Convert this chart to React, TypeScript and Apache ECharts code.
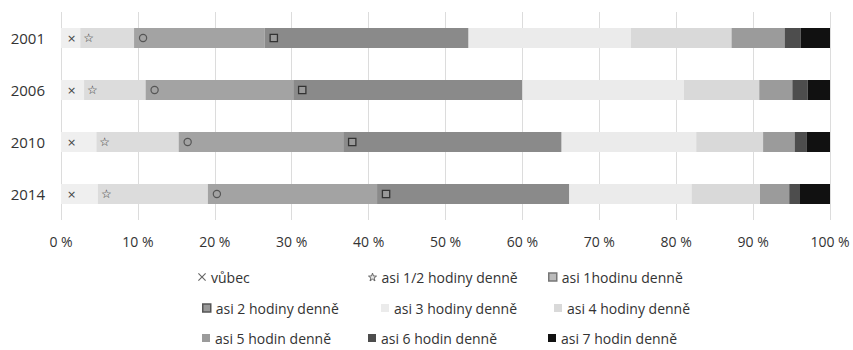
import React, { useEffect, useRef } from "react";
import * as echarts from "echarts";

// Survey years (rows, top to bottom)
const years = ["2001", "2006", "2010", "2014"];

// Share of respondents (%) per answer, one value per year
const vubec = [2.5, 3.0, 4.6, 4.8];
const pulHodiny = [7.0, 8.0, 10.7, 14.3];
const jednaHodina = [17.0, 19.2, 21.4, 22.0];
const dveHodiny = [26.5, 29.8, 28.4, 25.0];
const triHodiny = [21.1, 21.0, 17.5, 15.9];
const ctyriHodiny = [13.1, 9.8, 8.7, 8.9];
const petHodin = [6.9, 4.3, 4.1, 3.8];
const sestHodin = [2.1, 2.0, 1.6, 1.4];
const sedmHodin = [3.8, 2.9, 3.0, 3.9];

const seriesNames = [
  "vůbec",
  "asi 1/2 hodiny denně",
  "asi 1hodinu denně",
  "asi 2 hodiny denně",
  "asi 3 hodiny denně",
  "asi 4 hodiny denně",
  "asi 5 hodin denně",
  "asi 6 hodin denně",
  "asi 7 hodin denně",
];
const seriesData = [
  vubec,
  pulHodiny,
  jednaHodina,
  dveHodiny,
  triHodiny,
  ctyriHodiny,
  petHodin,
  sestHodin,
  sedmHodin,
];

const xTicks = [0, 10, 20, 30, 40, 50, 60, 70, 80, 90, 100];

const colors = [
  "#efefef",
  "#dcdcdc",
  "#a3a3a3",
  "#8a8a8a",
  "#ebebeb",
  "#d9d9d9",
  "#9b9b9b",
  "#4d4d4d",
  "#111111",
];

const FONT = "Open Sans";
const TEXT = "#333333";

// Small pattern marks drawn at the left end of the first four segments
const markLabels: any[] = [
  {
    show: true,
    position: "insideLeft",
    distance: 6,
    formatter: "×",
    color: "#444",
    fontSize: 11,
    fontFamily: "DejaVu Sans",
  },
  {
    show: true,
    position: "insideLeft",
    distance: 3,
    formatter: "☆",
    color: "#333",
    fontSize: 12,
    fontFamily: "DejaVu Sans",
  },
  {
    show: true,
    position: "insideLeft",
    distance: 6,
    formatter: "{c|}",
    rich: {
      c: {
        width: 6,
        height: 6,
        borderRadius: 3,
        borderColor: "#555",
        borderWidth: 1.2,
        backgroundColor: "#a3a3a3",
      },
    },
  },
  {
    show: true,
    position: "insideLeft",
    distance: 6,
    formatter: "{s|}",
    rich: {
      s: {
        width: 6,
        height: 6,
        borderColor: "#333",
        borderWidth: 1.3,
        backgroundColor: "#999",
      },
    },
  },
];

// Legend icons
const legendIcons: any[] = [
  "path://M0,1L1,0L5,4L9,0L10,1L6,5L10,9L9,10L5,6L1,10L0,9L4,5Z",
  "path://M5,0L6.2,3.6L10,3.8L7,6.1L8.1,9.8L5,7.6L1.9,9.8L3,6.1L0,3.8L3.8,3.6Z",
  "rect",
  "rect",
  "rect",
  "rect",
  "rect",
  "rect",
  "rect",
];
const legendStyles: any[] = [
  { color: "#666" },
  { color: "#e6e6e6", borderColor: "#666", borderWidth: 1 },
  { color: "#bbbbbb", borderColor: "#777", borderWidth: 1.5 },
  { color: "#999", borderColor: "#555", borderWidth: 1.5 },
  { color: colors[4] },
  { color: colors[5] },
  { color: colors[6] },
  { color: colors[7] },
  { color: colors[8] },
];
// Legend grid: three columns, three rows
const legendLeft = [198, 368, 548, 202, 381, 554, 202, 368, 548];
const legendTop = [270, 270, 270, 301, 301, 301, 331, 331, 331];

export default function App() {
  const ref = useRef<HTMLDivElement>(null);

  useEffect(() => {
    if (!ref.current) return;
    const chart = echarts.init(ref.current, null, { renderer: "svg" });

    const series = seriesNames.map((name, i) => ({
      name,
      type: "bar",
      stack: "total",
      barWidth: 20,
      data: seriesData[i],
      itemStyle: { color: colors[i] },
      label: i < 4 ? markLabels[i] : { show: false },
      emphasis: { disabled: true },
    }));

    const legends = seriesNames.map((name, i) => ({
      show: true,
      left: legendLeft[i],
      top: legendTop[i],
      orient: "horizontal",
      itemWidth: 8,
      itemHeight: 8,
      padding: 0,
      selectedMode: false,
      textStyle: {
        fontFamily: FONT,
        fontSize: 14,
        lineHeight: 14,
        color: TEXT,
      },
      data: [
        {
          name,
          icon: legendIcons[i],
          itemStyle: legendStyles[i],
        },
      ],
    }));

    chart.setOption({
      animation: false,
      textStyle: { fontFamily: FONT },
      grid: { left: 61, right: 23, top: 12, bottom: 130, containLabel: false },
      xAxis: {
        type: "value",
        min: xTicks[0],
        max: xTicks[xTicks.length - 1],
        interval: 10,
        axisLine: { show: false },
        axisTick: { show: false },
        splitLine: { lineStyle: { color: "#dcdcdc", width: 1 } },
        axisLabel: {
          formatter: "{value} %",
          fontFamily: FONT,
          fontSize: 14,
          color: TEXT,
          margin: 14,
        },
      },
      yAxis: {
        type: "category",
        data: years,
        inverse: true,
        axisLine: { show: false },
        axisTick: { show: false },
        axisLabel: {
          fontFamily: FONT,
          fontSize: 15,
          color: TEXT,
          margin: 16,
        },
      },
      legend: legends,
      series,
    });

    return () => chart.dispose();
  }, []);

  return (
    <div
      ref={ref}
      style={{
        position: "absolute",
        left: 0,
        top: 0,
        width: 853,
        height: 350,
        background: "#ffffff",
      }}
    />
  );
}
